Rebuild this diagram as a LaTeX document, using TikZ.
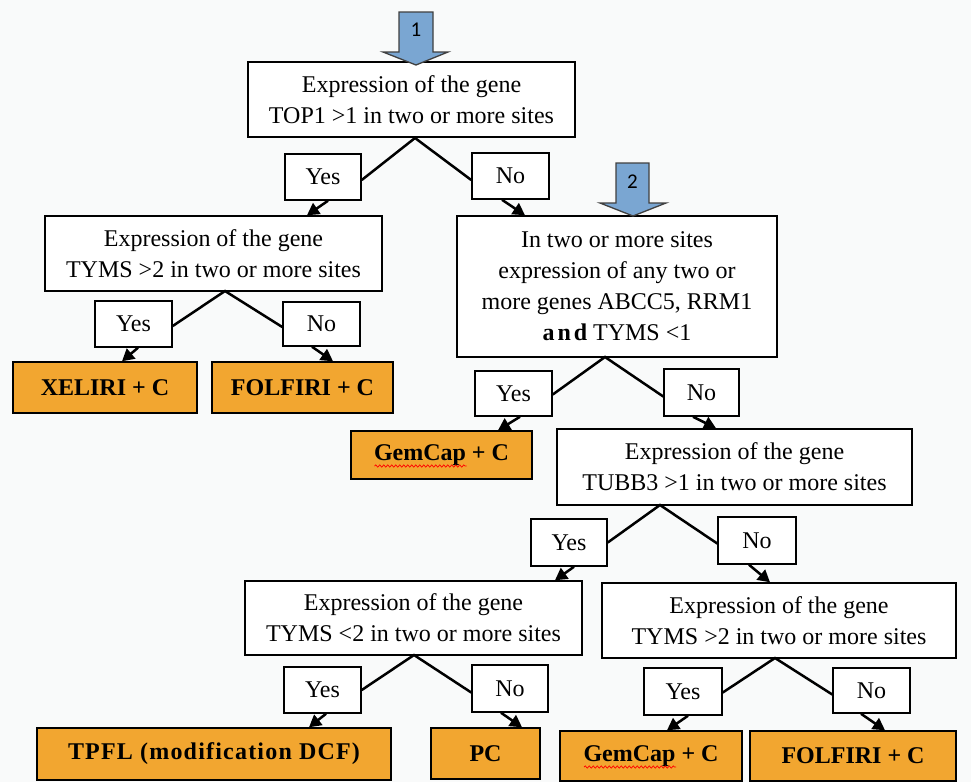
\documentclass[tikz,border=0pt]{standalone}
\usepackage{fontspec}
\setmainfont{Liberation Serif}
\newfontfamily\numfont{Carlito}
\usetikzlibrary{arrows.meta,decorations.pathmorphing}
\definecolor{bgc}{RGB}{249,250,250}
\definecolor{orangec}{RGB}{242,166,48}
\definecolor{bluec}{RGB}{122,166,210}
\begin{document}
\begin{tikzpicture}[x=1pt,y=-1pt,
  box/.style={draw=black, line width=1.5pt, fill=white, inner sep=0pt, align=center, font=\fontsize{24}{31}\selectfont},
  res/.style={draw=black, line width=1.5pt, fill=orangec, inner sep=0pt, align=center, font=\fontsize{24}{31}\selectfont\bfseries},
  con/.style={line width=2.5pt, black},
  arr/.style={line width=2.5pt, black, -{Triangle[length=12pt,width=13pt]}},
  bluearr/.style={fill=bluec, draw=black!75, line width=1.3pt},
  wavy/.style={red, line width=0.7pt, decorate, decoration={snake, amplitude=1.1pt, segment length=4pt}}
]
\fill[bgc] (0,0) rectangle (971,782);
\useasboundingbox (0,0) rectangle (971,782);

% decision boxes
\node[box, minimum width=327pt, minimum height=75pt] (top1) at (411.5,99.5) {Expression of the gene\\TOP1 >1 in two or more sites};
\node[box, minimum width=337pt, minimum height=75pt] (tymsA) at (213.5,253.5) {Expression of the gene\\TYMS >2 in two or more sites};
\node[box, minimum width=320pt, minimum height=141pt] (box2) at (617,286.5) {In two or more sites\\expression of any two or\\more genes ABCC5, RRM1\\{\bfseries\addfontfeatures{LetterSpace=12}and} TYMS <1};
\node[box, minimum width=355pt, minimum height=76pt] (tubb) at (734.5,467) {Expression of the gene\\TUBB3 >1 in two or more sites};
\node[box, minimum width=337pt, minimum height=74pt] (tymsB) at (413.5,618) {Expression of the gene\\TYMS <2 in two or more sites};
\node[box, minimum width=354pt, minimum height=75pt] (tymsC) at (779,620.5) {Expression of the gene\\TYMS >2 in two or more sites};

% yes / no boxes
\node[box, minimum width=76pt, minimum height=46pt] (yes1) at (323,177) {Yes};
\node[box, minimum width=77pt, minimum height=46pt] (no1) at (510.5,176) {No};
\node[box, minimum width=77pt, minimum height=46pt] (yes2) at (133.5,324) {Yes};
\node[box, minimum width=77pt, minimum height=44pt] (no2) at (321.5,324) {No};
\node[box, minimum width=77pt, minimum height=45pt] (yes3) at (513.5,393.5) {Yes};
\node[box, minimum width=75pt, minimum height=47pt] (no3) at (701.5,392.5) {No};
\node[box, minimum width=76pt, minimum height=47pt] (yes4) at (569,542.5) {Yes};
\node[box, minimum width=78pt, minimum height=47pt] (no4) at (757,540.5) {No};
\node[box, minimum width=77pt, minimum height=46pt] (yes5) at (322.5,690) {Yes};
\node[box, minimum width=76pt, minimum height=47pt] (no5) at (510,688.5) {No};
\node[box, minimum width=78pt, minimum height=47pt] (yes6) at (683,691.5) {Yes};
\node[box, minimum width=77pt, minimum height=45pt] (no6) at (871.5,690.5) {No};

% result boxes
\node[res, minimum width=184pt, minimum height=51pt] (xel) at (105,387.5) {XELIRI + C};
\node[res, minimum width=181pt, minimum height=51pt] (folA) at (302.5,387.5) {FOLFIRI + C};
\node[res, minimum width=181pt, minimum height=48pt] (gem1) at (441.5,455) {GemCap + C};
\node[res, minimum width=354pt, minimum height=52pt] (tpfl) at (214,754) {\addfontfeatures{LetterSpace=5}TPFL (modification DCF)};
\node[res, minimum width=109pt, minimum height=51pt] (pc) at (485.5,753.5) {PC};
\node[res, minimum width=182pt, minimum height=50pt] (gem2) at (651,756) {GemCap + C};
\node[res, minimum width=206pt, minimum height=50pt] (folB) at (853,756) {FOLFIRI + C};

% spell-check underlines
\draw[wavy] ([xshift=-67pt,yshift=-11pt]gem1.center) -- ([xshift=25pt,yshift=-11pt]gem1.center);
\draw[wavy] ([xshift=-67pt,yshift=-11pt]gem2.center) -- ([xshift=25pt,yshift=-11pt]gem2.center);

% peaks
\coordinate (p1) at (415,138);
\coordinate (pA) at (225,291);
\coordinate (p2) at (605,357);
\coordinate (pT) at (660,505);
\coordinate (pB) at (414,655);
\coordinate (pC) at (775,658);

\draw[con] ([yshift=-3pt]yes1.east) -- (p1) -- ([yshift=-4pt]no1.west);
\draw[con] ([yshift=-2pt]yes2.east) -- (pA) -- ([yshift=-3pt]no2.west);
\draw[con] ([yshift=-1pt]yes3.east) -- (p2) -- ([yshift=-4pt]no3.west);
\draw[con] (yes4.east) -- (pT) -- ([yshift=-3pt]no4.west);
\draw[con] (yes5.east) -- (pB) -- ([yshift=-4pt]no5.west);
\draw[con] ([yshift=-1pt]yes6.east) -- (pC) -- ([yshift=-4pt]no6.west);

% arrows
\draw[arr] ([xshift=5pt]yes1.south) -- ([xshift=93.5pt]tymsA.north);
\draw[arr] ([xshift=-8.5pt]no1.south) -- ([xshift=-92pt]box2.north);
\draw[arr] ([xshift=4.5pt]yes2.south) -- ([xshift=17pt]xel.north);
\draw[arr] ([xshift=-9.5pt]no2.south) -- ([xshift=30.5pt]folA.north);
\draw[arr] ([xshift=6.5pt]yes3.south) -- ([xshift=56.5pt]gem1.north);
\draw[arr] ([xshift=-8.5pt]no3.south) -- ([xshift=-18.5pt]tubb.north);
\draw[arr] ([xshift=5pt]yes4.south) -- ([xshift=141.5pt]tymsB.north);
\draw[arr] ([xshift=-8pt]no4.south) -- ([xshift=-9pt]tymsC.north);
\draw[arr] ([xshift=3.5pt]yes5.south) -- ([xshift=95pt]tpfl.north);
\draw[arr] ([xshift=-9pt]no5.south) -- ([xshift=36.5pt]pc.north);
\draw[arr] ([xshift=5pt]yes6.south) -- ([xshift=16pt]gem2.north);
\draw[arr] ([xshift=-10.5pt]no6.south) -- ([xshift=32pt]folB.north);

% blue entry arrows
\draw[bluearr] (399,12) -- (433,12) -- (433,52) -- (448,52) -- (416,65) -- (383,52) -- (399,52) -- cycle;
\node[font=\numfont\fontsize{21}{24}\selectfont] (n1) at (416,30) {1};
\draw[bluearr] (616,163) -- (649,163) -- (649,203) -- (666,203) -- (633,216) -- (600,203) -- (616,203) -- cycle;
\node[font=\numfont\fontsize{21}{24}\selectfont] (n2) at (632.5,182) {2};
\end{tikzpicture}
\end{document}
